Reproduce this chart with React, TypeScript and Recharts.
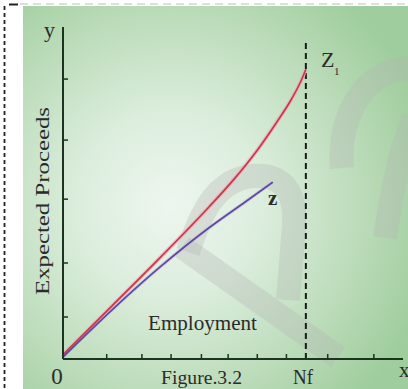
import React from 'react';
import { LineChart, Line, XAxis, YAxis, ReferenceLine } from 'recharts';

// employment on x (Nf = 100), expected proceeds on y
const EMPLOYMENT_TICKS = [18, 32.5, 44.5, 57, 68, 80, 92, 100, 109, 128];
const PROCEEDS_TICKS = [15, 34.3, 57.1, 78.2, 100];

const Z1_X = [0, 20, 40, 60, 70, 80, 88, 94, 98, 100];
const Z1_Y = [1.5, 18.8, 36.2, 54.2, 63.8, 74.6, 84.6, 92.7, 99.3, 103.5];

const Z_X = [0, 20, 40, 60, 75, 86.4];
const Z_Y = [0.7, 17.4, 32.9, 46.8, 56.1, 63.2];

const NF = 100;
const NF_TOP = 114;

const z1Data = Z1_X.map((x, i) => ({ x, y: Z1_Y[i] }));
const zData = Z_X.map((x, i) => ({ x, y: Z_Y[i] }));

const W = 408;
const H = 389;
const AXIS = '#1c3320';
const FONT = '"Liberation Serif", "Times New Roman", serif';
const INK = '#2b2b2b';

const Background: React.FC = () => (
    <svg width={W} height={H} style={{ position: 'absolute', left: 0, top: 0 }}>
        <defs>
            <radialGradient id="bg" cx="170" cy="205" r="270" gradientUnits="userSpaceOnUse">
                <stop offset="0%" stopColor="#eef6ef" />
                <stop offset="35%" stopColor="#dbeddc" />
                <stop offset="70%" stopColor="#bcdcba" />
                <stop offset="100%" stopColor="#9fcd9d" />
            </radialGradient>
        </defs>
        <rect x={0} y={0} width={W} height={H} fill="#ffffff" />
        <rect x={23} y={6} width={W - 23} height={H - 6} fill="url(#bg)" />
        {/* watermark */}
        <g stroke="#b4b6b4" strokeOpacity={0.35} fill="none" strokeWidth={24}>
            <path d="M 182 247 L 338 357" />
            <path d="M 188 252 C 200 215, 215 180, 252 176 C 285 173, 296 195, 294 225 L 288 300" />
            <path d="M 342 168 C 338 120, 360 80, 395 70 L 412 68" />
            <path d="M 385 238 C 392 190, 400 150, 414 118" />
        </g>
        {/* dashed frame */}
        <line x1={20} y1={4} x2={W} y2={4} stroke="#bdbdbd" strokeWidth={1.2} strokeDasharray="8 5" />
        <line x1={9} y1={4.5} x2={18} y2={4.5} stroke="#222" strokeWidth={2} />
        <line x1={4.5} y1={6} x2={4.5} y2={H} stroke="#222" strokeWidth={1.8} strokeDasharray="4 3" />
    </svg>
);

const Texts: React.FC = () => (
    <svg
        width={W}
        height={H}
        style={{ position: 'absolute', left: 0, top: 0, pointerEvents: 'none' }}
        fontFamily={FONT}
        fill={INK}
    >
        <text x={44} y={37} fontSize={22}>y</text>
        <text
            x={0}
            y={0}
            fontSize={18}
            textAnchor="middle"
            textLength={188}
            lengthAdjust="spacingAndGlyphs"
            transform="translate(49 201) rotate(-90)"
        >
            Expected Proceeds
        </text>
        <text x={148} y={330} fontSize={21} textLength={109} lengthAdjust="spacingAndGlyphs">Employment</text>
        <text x={57} y={384} fontSize={23} textAnchor="middle">0</text>
        <text x={161} y={384} fontSize={19} textLength={81} lengthAdjust="spacingAndGlyphs">Figure.3.2</text>
        <text x={293} y={384} fontSize={20} textLength={20} lengthAdjust="spacingAndGlyphs">Nf</text>
        <text x={399} y={377} fontSize={21}>x</text>
        <text x={321} y={67} fontSize={22}>Z</text>
        <text x={334} y={75} fontSize={11}>1</text>
        <text x={268} y={205} fontSize={21} fontWeight="bold">z</text>
    </svg>
);

const blank = () => '';

const App: React.FC = () => {
    return (
        <div style={{ position: 'absolute', left: 0, top: 0, width: W, height: H, overflow: 'hidden' }}>
            <Background />
            <div style={{ position: 'absolute', left: 0, top: 0 }}>
                <LineChart width={W} height={H} margin={{ top: 27, right: 5, bottom: 30, left: 63 }}>
                    <XAxis
                        type="number"
                        dataKey="x"
                        domain={[0, 140]}
                        ticks={EMPLOYMENT_TICKS}
                        interval={0}
                        mirror
                        tickFormatter={blank}
                        tickSize={5}
                        axisLine={{ stroke: AXIS, strokeWidth: 2 }}
                        tickLine={{ stroke: AXIS, strokeWidth: 1.5 }}
                        allowDataOverflow
                    />
                    <YAxis
                        type="number"
                        dataKey="y"
                        domain={[0, 118.6]}
                        ticks={PROCEEDS_TICKS}
                        interval={0}
                        mirror
                        tickFormatter={blank}
                        tickSize={5}
                        axisLine={{ stroke: AXIS, strokeWidth: 2 }}
                        tickLine={{ stroke: AXIS, strokeWidth: 1.5 }}
                        allowDataOverflow
                    />
                    <ReferenceLine
                        segment={[{ x: NF, y: 0 }, { x: NF, y: NF_TOP }]}
                        stroke="#1a1a1a"
                        strokeWidth={2}
                        strokeDasharray="6 4"
                        ifOverflow="visible"
                    />
                    <Line data={z1Data} dataKey="y" type="monotone" stroke="#f2a7b8" strokeOpacity={0.7} strokeWidth={4} dot={false} activeDot={false} isAnimationActive={false} />
                    <Line data={zData} dataKey="y" type="monotone" stroke="#cbb8e6" strokeOpacity={0.6} strokeWidth={3.5} dot={false} activeDot={false} isAnimationActive={false} />
                    <Line data={z1Data} dataKey="y" type="monotone" stroke="#c23a4a" strokeWidth={1.7} dot={false} activeDot={false} isAnimationActive={false} />
                    <Line data={zData} dataKey="y" type="monotone" stroke="#5a4a9c" strokeWidth={1.7} dot={false} activeDot={false} isAnimationActive={false} />
                </LineChart>
            </div>
            <Texts />
        </div>
    );
};

export default App;
